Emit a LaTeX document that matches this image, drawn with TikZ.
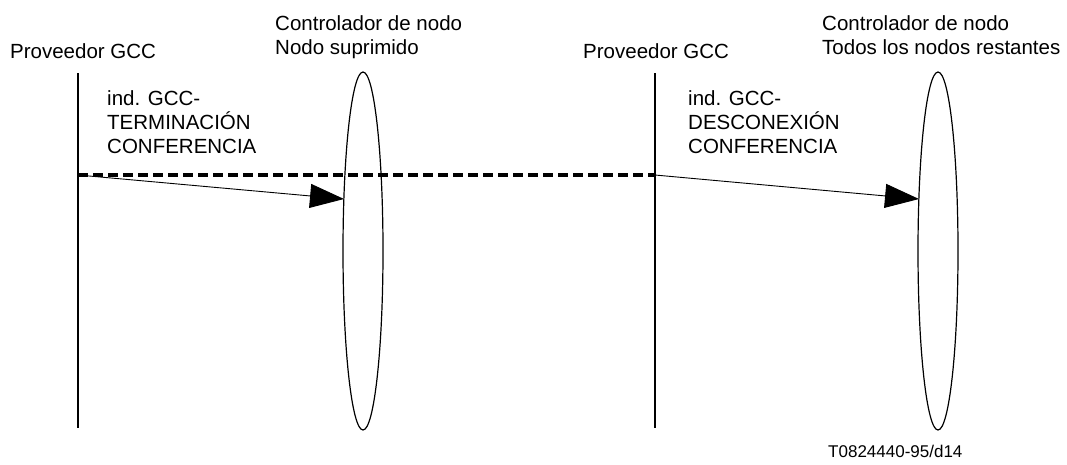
\documentclass[tikz,border=0pt]{standalone}
\usepackage{fontspec}
\setmainfont{Liberation Sans}
\usetikzlibrary{shapes.geometric,arrows.meta}

\begin{document}
\begin{tikzpicture}[x=1pt,y=-1pt,
  txt/.style={inner sep=0pt,anchor=base west,align=left,font=\fontsize{20.5}{24}\selectfont},
  life/.style={line width=1.6pt},
  ctrl/.style={draw,ellipse,line width=1.2pt,inner sep=0pt,minimum width=40pt,minimum height=358pt},
  msg/.style={line width=0.9pt,-{Triangle[length=34pt,width=24pt]}},
  term/.style={line width=3.5pt,dash pattern=on 10pt off 5pt}]
\useasboundingbox (0,0) rectangle (1067,464);
% cabeceras (base de la ultima linea)
\node[txt] (prov1) at (10,58) {Proveedor GCC};
\node[txt] (ctl1) at (275,54) {Controlador de nodo\\Nodo suprimido};
\node[txt] (prov2) at (583,58) {Proveedor GCC};
\node[txt] (ctl2) at (822,54) {Controlador de nodo\\Todos los nodos restantes};
% lineas de vida
\coordinate (p1top) at (78,73);
\coordinate (p1bot) at (78,428);
\coordinate (p2top) at (655,73);
\coordinate (p2bot) at (655,428);
\draw[life] (p1top) -- (p1bot);
\draw[life] (p2top) -- (p2bot);
\node[ctrl] (e1) at (363,251) {};
\node[ctrl] (e2) at (938,251) {};
% primitivas
\coordinate (d1) at (78,175);
\coordinate (d2) at (655,175);
\coordinate (h1) at (344,199);
\coordinate (h2) at (919,199);
\draw[term] (d1) -- (d2);
\draw[msg] (d1) -- (h1);
\draw[msg] (d2) -- (h2);
\node[txt] (lab1) at (107,153) {ind. GCC-\\TERMINACIÓN\\CONFERENCIA};
\node[txt] (lab2) at (688,153) {ind. GCC-\\DESCONEXIÓN\\CONFERENCIA};
\node[txt,font=\fontsize{17}{20}\selectfont] (ref) at (828,457) {T0824440-95/d14};
\end{tikzpicture}
\end{document}
